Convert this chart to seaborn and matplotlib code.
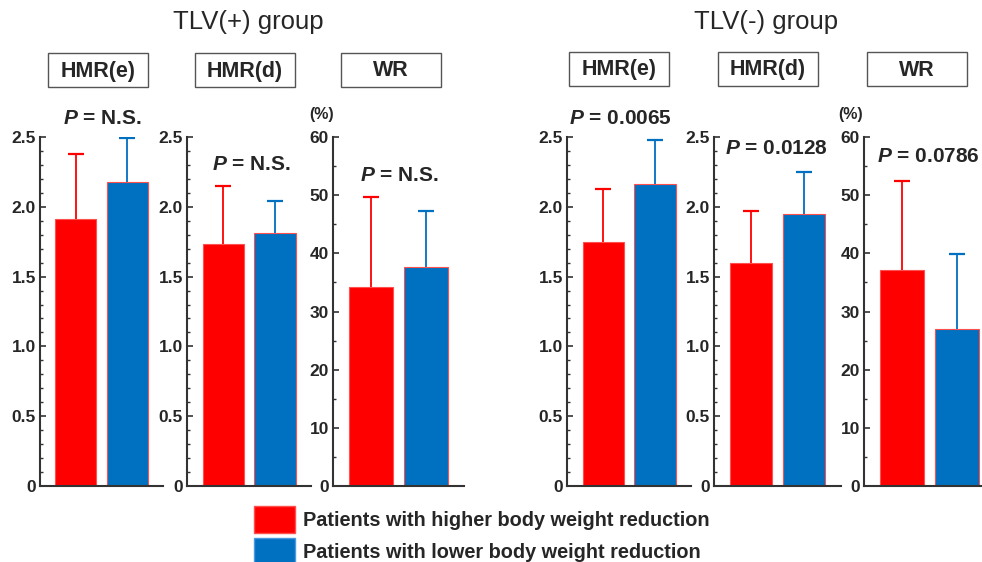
import numpy as np
import pandas as pd
import matplotlib
matplotlib.use("Agg")
import matplotlib.pyplot as plt
import seaborn as sns
from matplotlib.patches import Rectangle, Patch
from matplotlib.ticker import FixedLocator, MultipleLocator

sns.set_style("ticks")
plt.rcParams['font.family'] = ['Liberation Sans', 'DejaVu Sans']
plt.rcParams['mathtext.fontset'] = 'custom'
plt.rcParams['mathtext.it'] = 'Liberation Sans:italic:bold'
plt.rcParams['mathtext.rm'] = 'Liberation Sans:bold'

# data (mean and upper SD per bar)
groups = ["Patients with higher body weight reduction",
          "Patients with lower body weight reduction"]
colors = ["#ff0000", "#0070c0"]
panel_titles = ["HMR(e)", "HMR(d)", "WR", "HMR(e)", "HMR(d)", "WR"]

tlv_pos_mean = [1.91, 1.73, 34.2]
tlv_pos_sd = [0.47, 0.42, 15.5]
tlv_pos_mean_low = [2.18, 1.81, 37.6]
tlv_pos_sd_low = [0.31, 0.23, 9.6]

tlv_neg_mean = [1.75, 1.60, 37.2]
tlv_neg_sd = [0.38, 0.37, 15.2]
tlv_neg_mean_low = [2.16, 1.95, 27.0]
tlv_neg_sd_low = [0.32, 0.30, 12.8]

p_texts = [r"$P$ = N.S.", r"$P$ = N.S.", r"$P$ = N.S.",
           r"$P$ = 0.0065", r"$P$ = 0.0128", r"$P$ = 0.0786"]

W, H = 982, 562
fig = plt.figure(figsize=(W / 100, H / 100), dpi=100)

# panel layout in pixels: (left, width)
axes_px = [(40, 123), (187, 124), (333, 131), (567, 124), (714, 127), (864, 131)]
box_px = [(48, 53), (195, 53), (341, 53), (569, 52), (718, 52), (867, 52)]
p_px = [(102, 118), (251, 165), (399, 175), (620, 118), (776, 148), (928, 157)]

hi_means = tlv_pos_mean + tlv_neg_mean
hi_sds = tlv_pos_sd + tlv_neg_sd
lo_means = tlv_pos_mean_low + tlv_neg_mean_low
lo_sds = tlv_pos_sd_low + tlv_neg_sd_low

for i in range(6):
    left, width = axes_px[i]
    ax = fig.add_axes([left / W, (H - 486) / H, width / W, 349 / H])
    df = pd.DataFrame({"group": groups, "value": [hi_means[i], lo_means[i]]})
    sns.barplot(data=df, x="group", y="value", hue="group", palette=colors,
                width=0.8, legend=False, ax=ax, saturation=1, linewidth=0.8,
                edgecolor=["#ff5050", "#4a9ae0"])
    for j, (m, s) in enumerate([(hi_means[i], hi_sds[i]), (lo_means[i], lo_sds[i])]):
        eb = ax.errorbar(j, m, yerr=[[0], [s]], fmt="none", ecolor=colors[j],
                         elinewidth=1.3, capsize=6, capthick=1.6, zorder=1)
        # keep only the upper cap
        eb.lines[1][0].set_visible(False)
    ax.set_xlim(-0.7, 1.7)
    is_wr = panel_titles[i] == "WR"
    if is_wr:
        ax.set_ylim(0, 60)
        ax.yaxis.set_major_locator(FixedLocator([0, 10, 20, 30, 40, 50, 60]))
        ax.set_yticklabels(["0", "10", "20", "30", "40", "50", "60"])
        ax.yaxis.set_minor_locator(MultipleLocator(5))
    else:
        ax.set_ylim(0, 2.5)
        ax.yaxis.set_major_locator(FixedLocator([0, 0.5, 1.0, 1.5, 2.0, 2.5]))
        ax.set_yticklabels(["0", "0.5", "1.0", "1.5", "2.0", "2.5"])
        ax.yaxis.set_minor_locator(MultipleLocator(0.1))
    ax.set_xticks([])
    ax.set_xlabel("")
    ax.set_ylabel("")
    sns.despine(ax=ax)
    for sp in ["left", "bottom"]:
        ax.spines[sp].set_color("#333333")
        ax.spines[sp].set_linewidth(1.5)
    ax.tick_params(axis="y", which="major", direction="in", length=4,
                   width=1.2, color="#333333", labelsize=12.5, pad=3)
    ax.tick_params(axis="y", which="minor", direction="in", length=2,
                   width=1.0, color="#333333")
    for lab in ax.get_yticklabels():
        lab.set_fontweight("bold")
    ax.patch.set_alpha(0)

    # title box
    bx, by = box_px[i]
    fig.patches.append(Rectangle((bx / W, 1 - (by + 34) / H), 100 / W, 34 / H,
                                 transform=fig.transFigure, facecolor="white",
                                 edgecolor="#555555", linewidth=1.0))
    fig.text((bx + 50) / W, 1 - (by + 18) / H, panel_titles[i], ha="center",
             va="center", fontsize=15.5, fontweight="bold")

    # P value
    px, py = p_px[i]
    fig.text(px / W, 1 - py / H, p_texts[i], ha="center", va="center",
             fontsize=15, fontweight="bold")

# (%) labels
fig.text(322 / W, 1 - 114 / H, "(%)", ha="center", va="center", fontsize=11.5,
         fontweight="bold")
fig.text(851 / W, 1 - 114 / H, "(%)", ha="center", va="center", fontsize=11.5,
         fontweight="bold")

fig.text(248 / W, 1 - 22 / H, "TLV(+) group", ha="center", va="center", fontsize=18.5)
fig.text(766 / W, 1 - 22 / H, "TLV(-) group", ha="center", va="center", fontsize=18.5)

handles = [Patch(facecolor=colors[0], edgecolor="#ff5050"),
           Patch(facecolor=colors[1], edgecolor="#4a9ae0")]
fig.legend(handles, groups, loc="upper left", bbox_to_anchor=(254 / W, 1 - 506 / H),
           frameon=False, borderpad=0, borderaxespad=0, handlelength=2.05,
           handleheight=1.7, labelspacing=0.25, handletextpad=0.4,
           prop={"size": 14.3, "weight": "bold"})

fig.savefig("out.png", dpi=100)
